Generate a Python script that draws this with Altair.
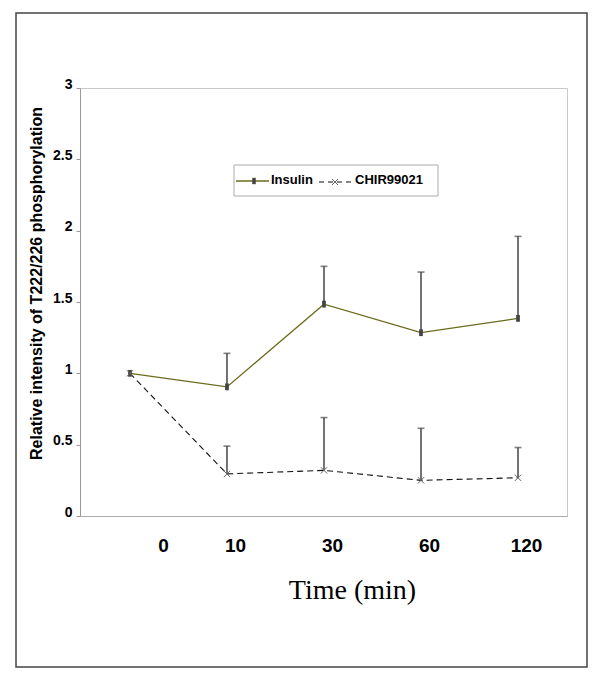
import json
import altair as alt
import pandas as pd

# ---- data ----
times = ["0", "10", "30", "60", "120"]
series = ["Insulin", "CHIR99021"]
insulin_mean = [1.0, 0.905, 1.485, 1.285, 1.385]
insulin_upper = [None, 1.14, 1.75, 1.71, 1.96]
chir_mean = [1.0, 0.295, 0.32, 0.25, 0.268]
chir_upper = [None, 0.49, 0.69, 0.615, 0.48]
y_ticks = [0, 0.5, 1, 1.5, 2, 2.5, 3]

rows = []
for s, means, uppers in [(series[0], insulin_mean, insulin_upper),
                         (series[1], chir_mean, chir_upper)]:
    for i, t in enumerate(times):
        rows.append({"idx": i, "time": t, "series": s,
                     "mean": means[i], "upper": uppers[i]})
df = pd.DataFrame(rows)
legend_df = pd.DataFrame({"series": series})

FONT = "Liberation Sans"
OLIVE = "#6b6a1c"

x_enc = alt.X(
    "idx:Q",
    scale=alt.Scale(domain=[-0.515, 4.505], nice=False, zero=False),
    axis=alt.Axis(
        values=list(range(len(times))),
        labelExpr=json.dumps(times) + "[datum.value]",
        labelOffset={"condition": {"test": "datum.value === 0", "value": 33}, "value": 8},
        ticks=False, grid=False, domainColor="#aaaaaa",
        labelFont=FONT, labelFontSize=19, labelFontWeight="bold", labelColor="black",
        labelPadding=20,
        title="Time (min)", titleFont="Liberation Serif", titleFontSize=28,
        titleFontWeight="normal", titleColor="black",
        titleX=272, titleY=74, titleAlign="center", titleBaseline="middle",
    ),
)
y_enc = alt.Y(
    "mean:Q",
    scale=alt.Scale(domain=[0, 3], nice=False),
    axis=alt.Axis(
        values=y_ticks, labelExpr="'' + datum.value",
        grid=False, domainColor="#999999", tickColor="#999999", tickSize=4,
        labelFont=FONT, labelFontSize=14, labelFontWeight="bold", labelColor="black",
        labelPadding=4, labelOffset=-4,
        title="Relative intensity of T222/226 phosphorylation",
        titleFont=FONT, titleFontSize=16, titleFontWeight="bold", titleColor="black",
        titleX=-44, titleY=195, titleAlign="center", titleBaseline="middle",
    ),
)

base = alt.Chart(df)

outer = alt.Chart(legend_df).transform_filter("datum.series == 'Insulin'").mark_rect(
    fill=None, stroke="#444444", strokeWidth=1.5
).encode(x=alt.value(-64), x2=alt.value(507), y=alt.value(-75), y2=alt.value(579))

err_data = base.transform_filter("isValid(datum.upper)")
err_rule = err_data.mark_rule(color="#505050", strokeWidth=1.6).encode(
    x=x_enc, y=y_enc, y2="upper:Q")
err_cap = err_data.mark_tick(color="#505050", thickness=1.6, size=7, orient="horizontal").encode(
    x="idx:Q", y="upper:Q")

ins_line = base.transform_filter("datum.series == 'Insulin'").mark_line(
    color=OLIVE, strokeWidth=1.3).encode(x="idx:Q", y="mean:Q")
chir_line = base.transform_filter("datum.series == 'CHIR99021'").mark_line(
    color="#111111", strokeWidth=1.1, strokeDash=[6, 4]).encode(x="idx:Q", y="mean:Q")

SQUARE = "M-0.55,-1L0.55,-1L0.55,1L-0.55,1Z"
XSHAPE = "M-1,-1L1,1M-1,1L1,-1"
ins_pts = base.transform_filter("datum.series == 'Insulin'").mark_point(
    shape=SQUARE, filled=True, color="#444444", size=46, opacity=1).encode(x="idx:Q", y="mean:Q")
chir_pts = base.transform_filter("datum.series == 'CHIR99021'").mark_point(
    shape=XSHAPE, filled=False, color="#666666", strokeWidth=1, size=40, opacity=1).encode(
    x="idx:Q", y="mean:Q")

# legend
lg = alt.Chart(legend_df)
lg_box = lg.transform_filter("datum.series == 'Insulin'").mark_rect(
    fill="white", stroke="#aaaaaa", strokeWidth=1).encode(
    x=alt.value(154), x2=alt.value(358), y=alt.value(77), y2=alt.value(108))
lg_ins_line = lg.transform_filter("datum.series == 'Insulin'").mark_rule(
    color=OLIVE, strokeWidth=1.3).encode(x=alt.value(156), x2=alt.value(189), y=alt.value(93))
lg_ins_pt = lg.transform_filter("datum.series == 'Insulin'").mark_point(
    shape=SQUARE, filled=True, color="#444444", size=40, opacity=1).encode(
    x=alt.value(174), y=alt.value(93))
lg_ins_txt = lg.transform_filter("datum.series == 'Insulin'").mark_text(
    align="left", baseline="middle", font=FONT, fontSize=13, fontWeight="bold", color="black").encode(
    x=alt.value(191), y=alt.value(92), text="series:N")
lg_chir_line = lg.transform_filter("datum.series == 'CHIR99021'").mark_rule(
    color="#111111", strokeWidth=1.1, strokeDash=[5, 4]).encode(
    x=alt.value(239), x2=alt.value(273), y=alt.value(94))
lg_chir_pt = lg.transform_filter("datum.series == 'CHIR99021'").mark_point(
    shape=XSHAPE, filled=False, color="#666666", strokeWidth=1, size=36, opacity=1).encode(
    x=alt.value(255), y=alt.value(94))
lg_chir_txt = lg.transform_filter("datum.series == 'CHIR99021'").mark_text(
    align="left", baseline="middle", font=FONT, fontSize=13, fontWeight="bold", color="black").encode(
    x=alt.value(275), y=alt.value(92), text="series:N")

chart = alt.layer(
    outer, err_rule, err_cap, ins_line, chir_line, ins_pts, chir_pts,
    lg_box, lg_ins_line, lg_ins_pt, lg_ins_txt, lg_chir_line, lg_chir_pt, lg_chir_txt,
).properties(
    width=487, height=428,
    autosize=alt.AutoSizeParams(type="none"),
    padding={"left": 72, "top": 80, "right": 22, "bottom": 153},
    background="white",
).configure_view(stroke="#c8c8c8", strokeWidth=1)

chart.save("out.html", embed_options={"renderer": "svg", "actions": False})
